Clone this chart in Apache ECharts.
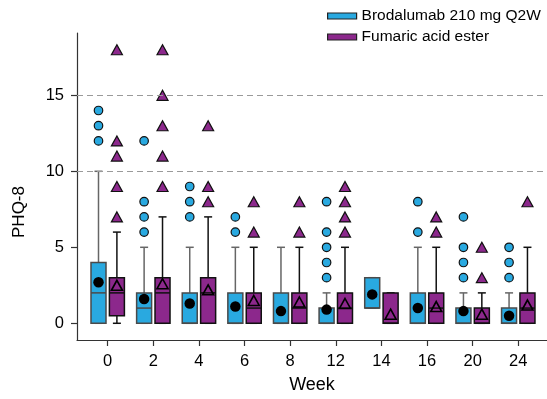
<!DOCTYPE html>
<html>
<head>
<meta charset="utf-8">
<script src="https://cdn.jsdelivr.net/npm/echarts@6/dist/echarts.min.js"></script>
<style>
html,body{margin:0;padding:0;background:#fff;}
#chart{width:547px;height:399px;}
</style>
</head>
<body>
<div id="chart"></div>
<script>
// ---- data ----
const weeks = ['0', '2', '4', '6', '8', '12', '14', '16', '20', '24'];
const seriesNames = ['Brodalumab 210 mg Q2W', 'Fumaric acid ester'];

// [lower whisker, Q1, median, Q3, upper whisker]
const brodaBox = [
  [0, 0, 2, 4, 10],
  [0, 0, 1, 2, 5],
  [0, 0, 0, 2, 5],
  [0, 0, 0, 2, 5],
  [0, 0, 0, 2, 5],
  [0, 0, 0, 1, 2],
  [1, 1, 1, 3, 3],
  [0, 0, 0, 2, 5],
  [0, 0, 0, 1, 2],
  [0, 0, 0, 1, 2]
];
const brodaMean = [2.7, 1.6, 1.3, 1.1, 0.8, 0.9, 1.9, 1.0, 0.8, 0.5];
const brodaOutliers = [
  [12, 13, 14], [6, 7, 8, 12], [7, 8, 9], [6, 7], [],
  [3, 4, 5, 6, 8], [], [6, 8], [3, 4, 5, 7], [3, 4, 5]
];

const faeBox = [
  [0, 0.5, 2, 3, 6],
  [0, 0, 2, 3, 7],
  [0, 0, 2, 3, 7],
  [0, 0, 1, 2, 5],
  [0, 0, 1, 2, 5],
  [0, 0, 1, 2, 5],
  [0, 0, 0, 2, 2],
  [0, 0, 1, 2, 5],
  [0, 0, 0, 1, 2],
  [0, 0, 1, 2, 5]
];
const faeMean = [2.5, 2.6, 2.2, 1.5, 1.4, 1.3, 0.6, 1.1, 0.6, 1.2];
const faeOutliers = [
  [7, 9, 11, 12, 18], [9, 11, 13, 15, 18], [8, 9, 13], [6, 8], [6, 8],
  [6, 7, 8, 9], [], [6, 7], [3, 5], [8]
];

const yTicks = [0, 5, 10, 15];
const refLines = [10, 15];

// ---- styling ----
const BLUE = '#29A9E0';
const PURPLE = '#8C288C';
const FONT = 'Liberation Sans, Arial, sans-serif';
const OFF = 9.2;      // px offset of each box from category centre
const HALF_W = 7.5;   // half box width in px
const CAP = 4;        // half whisker cap width in px

const idx = weeks.map((w, i) => i);

function boxSeries(name, stats, offset, fill, border, whisker) {
  return {
    type: 'custom',
    name: name,
    z: 3,
    itemStyle: { color: fill },
    data: stats.map((s, i) => [idx[i]].concat(s)),
    encode: { x: 0, y: [1, 2, 3, 4, 5] },
    renderItem: function (params, api) {
      const c = api.value(0);
      const pLo = api.coord([c, api.value(1)]);
      const pQ1 = api.coord([c, api.value(2)]);
      const pMed = api.coord([c, api.value(3)]);
      const pQ3 = api.coord([c, api.value(4)]);
      const pHi = api.coord([c, api.value(5)]);
      const x = pLo[0] + offset;
      const wStyle = { stroke: whisker, lineWidth: 1.5, fill: null };
      return {
        type: 'group',
        children: [
          { type: 'line', shape: { x1: x, y1: pQ3[1], x2: x, y2: pHi[1] }, style: wStyle },
          { type: 'line', shape: { x1: x, y1: pQ1[1], x2: x, y2: pLo[1] }, style: wStyle },
          { type: 'line', shape: { x1: x - CAP, y1: pHi[1], x2: x + CAP, y2: pHi[1] }, style: wStyle },
          { type: 'line', shape: { x1: x - CAP, y1: pLo[1], x2: x + CAP, y2: pLo[1] }, style: wStyle },
          {
            type: 'rect',
            shape: { x: x - HALF_W, y: pQ3[1], width: HALF_W * 2, height: pQ1[1] - pQ3[1] },
            style: { fill: fill, stroke: border, lineWidth: 1.5 }
          },
          { type: 'line', shape: { x1: x - HALF_W, y1: pMed[1], x2: x + HALF_W, y2: pMed[1] },
            style: { stroke: border, lineWidth: 1.5 } }
        ]
      };
    }
  };
}

function outlierData(list) {
  const out = [];
  list.forEach((vals, i) => vals.forEach(v => out.push([idx[i], v])));
  return out;
}

const option = {
  animation: false,
  backgroundColor: '#fff',
  textStyle: { fontFamily: FONT },
  grid: { left: 77, right: 0, top: 33, bottom: 56 },
  legend: {
    orient: 'vertical',
    left: 327,
    top: 8,
    padding: 0,
    itemWidth: 29,
    itemHeight: 6,
    itemGap: 5,
    textStyle: { fontFamily: FONT, fontSize: 15.5, color: '#000' },
    data: [
      { name: seriesNames[0], icon: 'rect', itemStyle: { color: BLUE, borderColor: '#222', borderWidth: 1.2 } },
      { name: seriesNames[1], icon: 'rect', itemStyle: { color: PURPLE, borderColor: '#222', borderWidth: 1.2 } }
    ]
  },
  xAxis: {
    type: 'value',
    min: -0.673,
    max: 9.63,
    name: 'Week',
    nameLocation: 'middle',
    nameGap: 36,
    nameTextStyle: { fontFamily: FONT, fontSize: 18, color: '#000' },
    splitLine: { show: false },
    axisLine: { show: true, onZero: false, lineStyle: { color: '#333', width: 1.2 } },
    axisTick: { show: true, length: 6, lineStyle: { color: '#333', width: 1.2 }, customValues: idx },
    axisLabel: {
      customValues: idx,
      formatter: v => weeks[Math.round(v)],
      fontFamily: FONT, fontSize: 16.5, color: '#000', margin: 13
    }
  },
  yAxis: {
    type: 'value',
    min: -1.1,
    max: 19.1,
    splitLine: { show: false },
    axisLine: { show: true, onZero: false, lineStyle: { color: '#333', width: 1.2 } },
    axisTick: { show: true, length: 6, lineStyle: { color: '#333', width: 1.2 }, customValues: yTicks },
    axisLabel: { customValues: yTicks, fontFamily: FONT, fontSize: 16.5, color: '#000', margin: 13 }
  },
  graphic: [{
    type: 'text',
    x: 19, y: 212,
    rotation: Math.PI / 2,
    style: { text: 'PHQ-8', fontFamily: FONT, fontSize: 17, fill: '#000', align: 'center', verticalAlign: 'middle' }
  }],
  series: [
    {
      type: 'scatter',
      name: 'ref',
      data: [],
      silent: true,
      z: 1,
      markLine: {
        silent: true,
        symbol: 'none',
        label: { show: false },
        lineStyle: { color: '#9a9a9a', type: [6, 4], width: 1 },
        data: refLines.map(v => ({ yAxis: v }))
      }
    },
    boxSeries(seriesNames[0], brodaBox, -OFF, BLUE, '#4a4a4a', '#666'),
    boxSeries(seriesNames[1], faeBox, OFF, PURPLE, '#111', '#111'),
    {
      type: 'scatter', name: 'bo', z: 4,
      symbol: 'circle', symbolSize: 8.5, symbolOffset: [-OFF, 0],
      itemStyle: { color: BLUE, borderColor: '#111', borderWidth: 1.2, opacity: 1 },
      data: outlierData(brodaOutliers)
    },
    {
      type: 'scatter', name: 'fo', z: 4,
      symbol: 'triangle', symbolSize: [11, 10], symbolOffset: [OFF, 0],
      itemStyle: { color: PURPLE, borderColor: '#111', borderWidth: 1.2, opacity: 1 },
      data: outlierData(faeOutliers)
    },
    {
      type: 'scatter', name: 'bm', z: 5,
      symbol: 'circle', symbolSize: 10.5, symbolOffset: [-OFF, 0],
      itemStyle: { color: '#000', opacity: 1 },
      data: brodaMean.map((v, i) => [idx[i], v])
    },
    {
      type: 'scatter', name: 'fm', z: 5,
      symbol: 'triangle', symbolSize: [11, 10], symbolOffset: [OFF, 0],
      itemStyle: { color: 'rgba(0,0,0,0)', borderColor: '#000', borderWidth: 1.6, opacity: 1 },
      data: faeMean.map((v, i) => [idx[i], v])
    }
  ]
};

const chart = echarts.init(document.getElementById('chart'), null, { renderer: 'canvas' });
chart.setOption(option);
</script>
</body>
</html>
